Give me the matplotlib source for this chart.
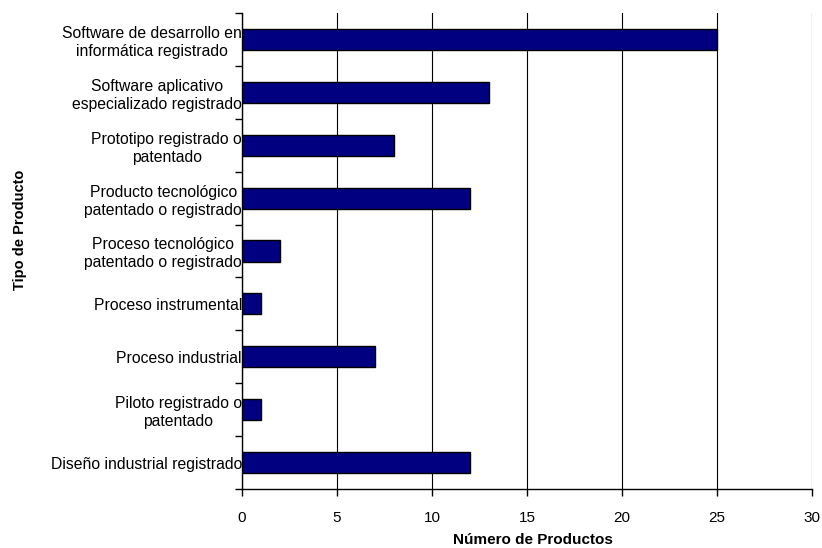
import matplotlib
matplotlib.use("Agg")
import matplotlib.pyplot as plt
import numpy as np

plt.rcParams['font.family'] = ['Liberation Sans', 'DejaVu Sans']

categories = [
    "Software de desarrollo en\ninformática registrado",
    "Software aplicativo\nespecializado registrado",
    "Prototipo registrado o\npatentado",
    "Producto tecnológico\npatentado o registrado",
    "Proceso tecnológico\npatentado o registrado",
    "Proceso instrumental",
    "Proceso industrial",
    "Piloto registrado o\npatentado",
    "Diseño industrial registrado",
]
values = [25, 13, 8, 12, 2, 1, 7, 1, 12]
xticks = [0, 5, 10, 15, 20, 25, 30]

fig = plt.figure(figsize=(8.22, 5.48), dpi=100)
ax = fig.add_axes([242/822, 1 - 489/548, (812-242)/822, (489-13)/548])

n = len(categories)
y = np.arange(n)
ax.barh(y, values, height=0.4, color="#000080", edgecolor="black", linewidth=1, zorder=3)
ax.set_ylim(n - 0.5, -0.5)
ax.set_xlim(0, 30)
ax.set_xticks(xticks)
ax.set_xticklabels([str(t) for t in xticks], fontsize=11)
ax.set_yticks(y)
ax.set_yticklabels(categories, fontsize=11.3, multialignment='center', linespacing=1.25)
ax.tick_params(axis='y', which='major', length=0, pad=0)
ax.set_yticks(np.arange(-0.5, n, 1), minor=True)
ax.tick_params(axis='y', which='minor', length=5, direction='out', width=1)
ax.tick_params(axis='x', length=5, direction='out', width=1, pad=11)
ax.xaxis.grid(True, color='black', linewidth=0.8, zorder=0)
ax.set_axisbelow(True)
for s in ['top', 'right']:
    ax.spines[s].set_visible(False)
for s in ['left', 'bottom']:
    ax.spines[s].set_linewidth(1)
ax.set_xlabel("Número de Productos", fontsize=11, fontweight='bold')
ax.xaxis.set_label_coords((533-242)/570, -(540-489)/476)
ax.xaxis.label.set_va('center')
ax.set_ylabel("Tipo de Producto", fontsize=10.5, fontweight='bold')
ax.yaxis.set_label_coords(-(242-20)/570, (489-230)/476)
ax.yaxis.label.set_va('center')

fig.savefig("out.png", dpi=100)
